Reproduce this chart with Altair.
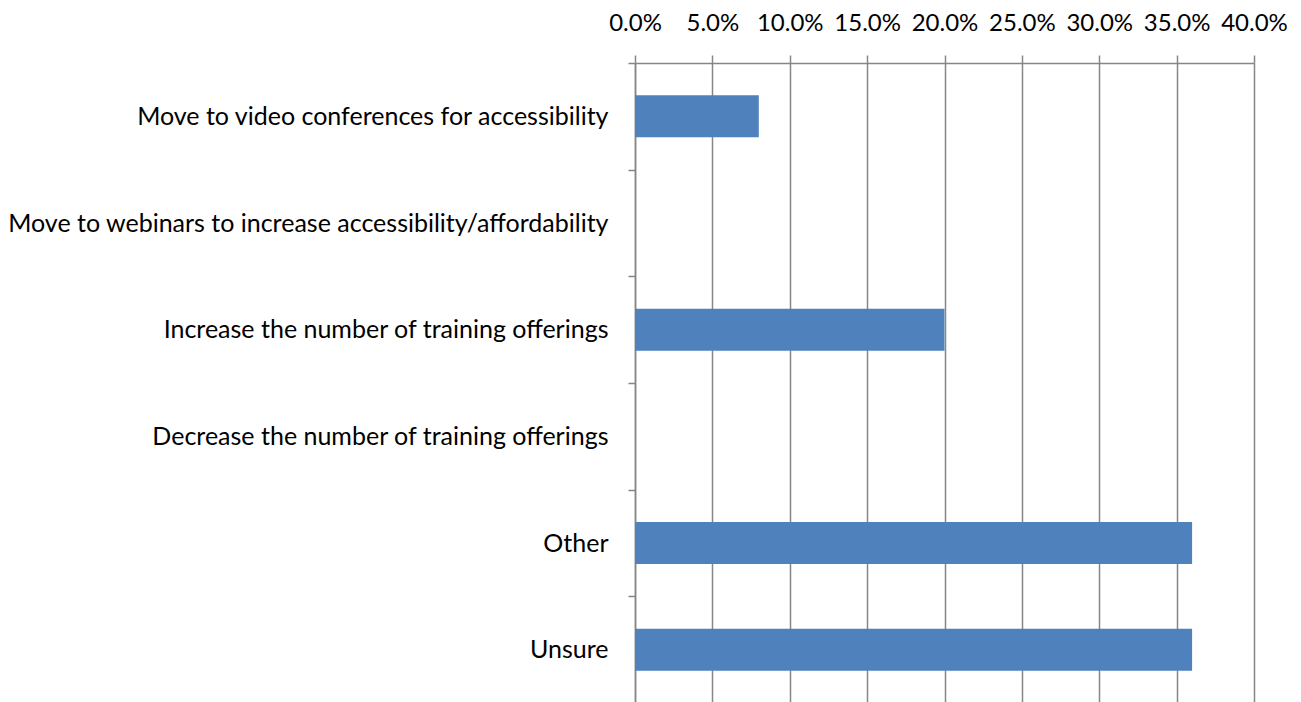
import altair as alt
import pandas as pd

categories = [
    "Move to video conferences for accessibility",
    "Move to webinars to increase accessibility/affordability",
    "Increase the number of training offerings",
    "Decrease the number of training offerings",
    "Other",
    "Unsure",
]
values = [0.08, 0.0, 0.20, 0.0, 0.36, 0.36]
tick_values = [0.0, 0.05, 0.10, 0.15, 0.20, 0.25, 0.30, 0.35, 0.40]

df = pd.DataFrame({"category": categories, "value": values})

FONT = "Lato"
GRID = "#868686"

chart = alt.Chart(df).mark_bar(size=42, color="#4F81BD").encode(
    x=alt.X(
        "value:Q",
        scale=alt.Scale(domain=[0, 0.4], nice=False),
        axis=alt.Axis(
            orient="top",
            values=tick_values,
            format=".1%",
            title=None,
            grid=True,
            gridColor=GRID,
            gridWidth=1.5,
            domainColor=GRID,
            domainWidth=1.5,
            tickColor=GRID,
            tickWidth=1.5,
            tickSize=8,
            labelPadding=20,
            labelFont=FONT,
            labelFontSize=24,
            labelColor="#000000",
            labelOverlap=False,
            labelFlush=False,
        ),
    ),
    y=alt.Y(
        "category:N",
        sort=categories,
        scale=alt.Scale(paddingInner=0, paddingOuter=0),
        axis=alt.Axis(
            title=None,
            tickBand="extent",
            domainColor=GRID,
            domainWidth=1.5,
            tickColor=GRID,
            tickWidth=1.5,
            tickSize=7,
            labelPadding=20,
            labelFont=FONT,
            labelFontSize=25,
            labelColor="#000000",
            labelLimit=0,
        ),
    ),
).properties(
    width=619,
    height=640,
    autosize=alt.AutoSizeParams(type="none"),
    padding={"left": 627, "top": 55, "right": 38, "bottom": 0},
).configure_view(stroke=None)

chart.save("out.html", embed_options={"renderer": "svg", "actions": False})
